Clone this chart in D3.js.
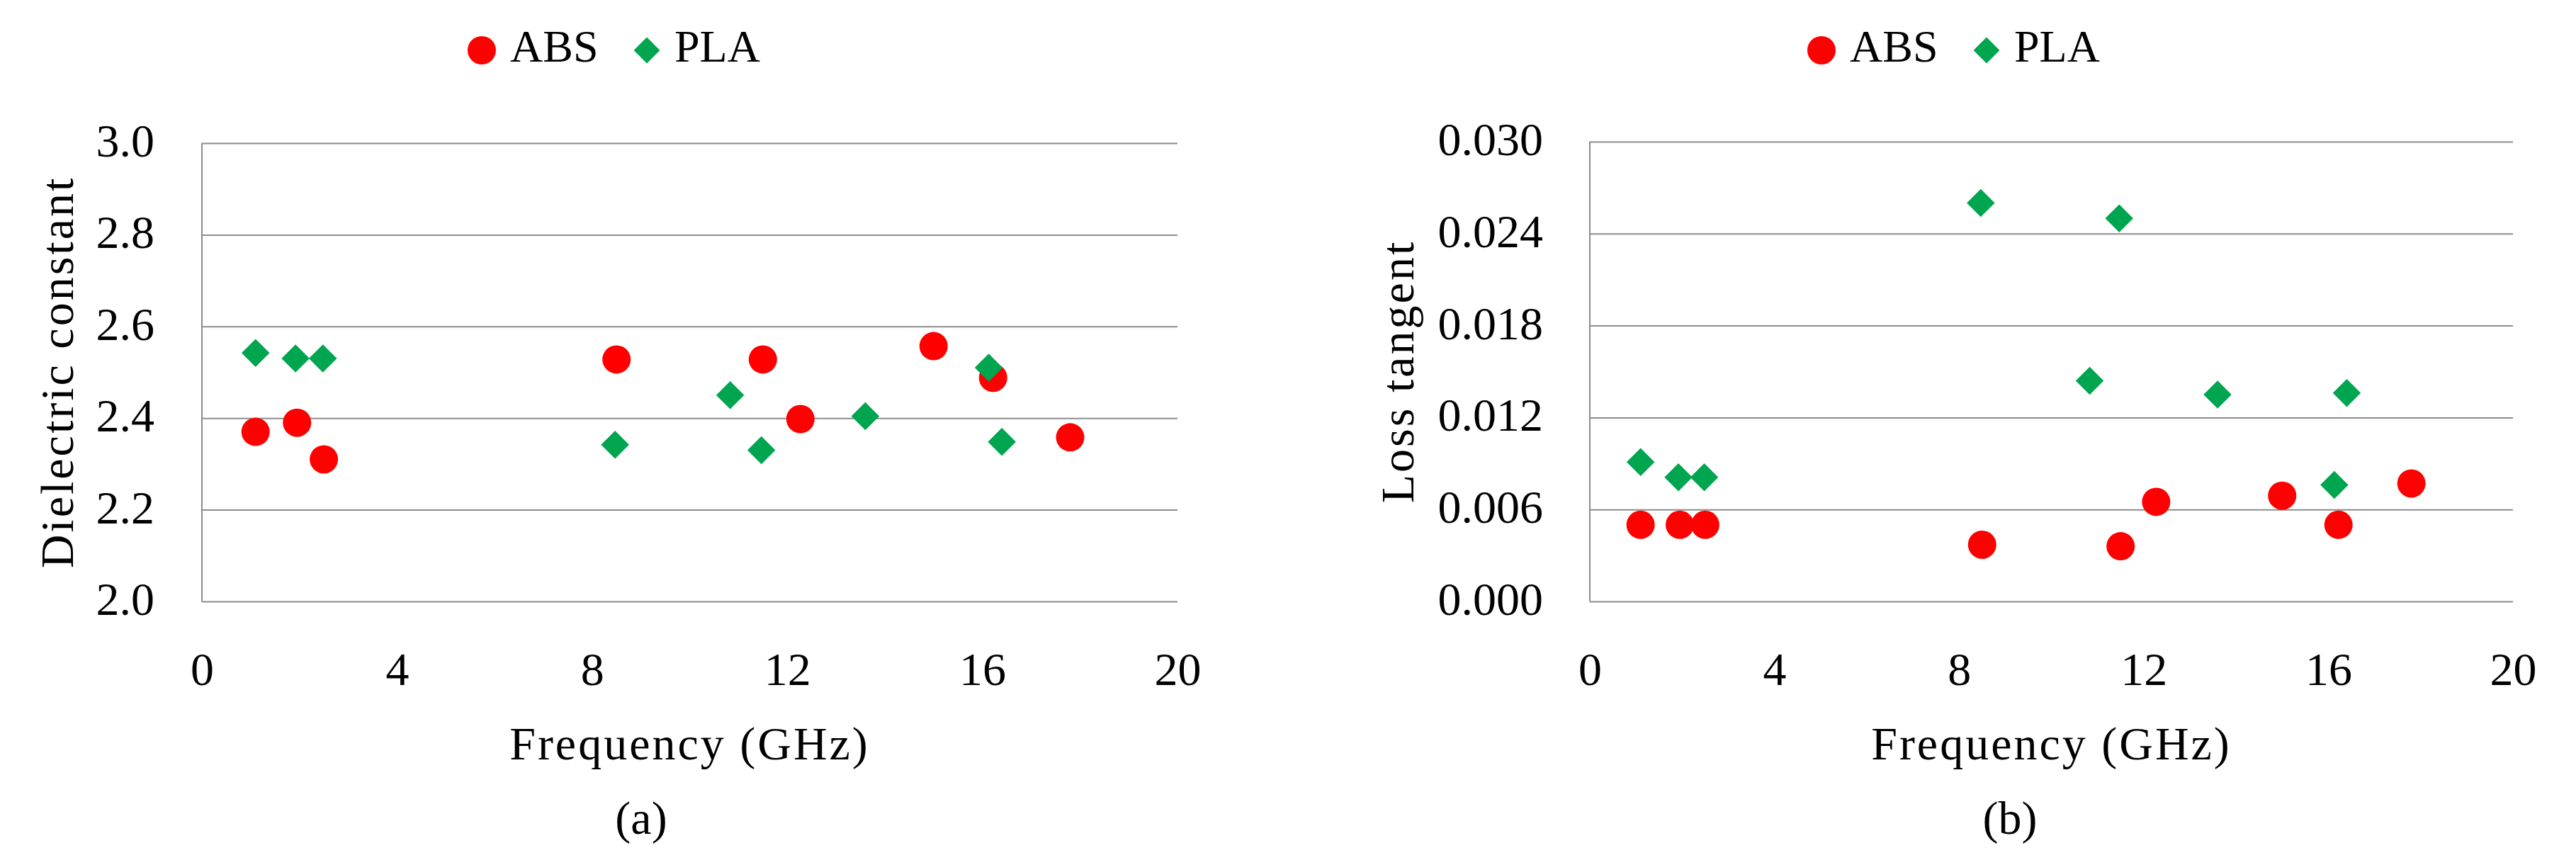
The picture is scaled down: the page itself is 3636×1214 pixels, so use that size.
<!DOCTYPE html>
<html>
<head>
<meta charset="utf-8">
<script src="https://cdn.jsdelivr.net/npm/d3@7"></script>
<style>
  body { margin: 0; background: #fff; }
  text { font-family: "Liberation Serif", "Times New Roman", serif; fill: #000; }
</style>
</head>
<body>
<div id="graph"></div>
<script>
const w = 3636;
const h = 1214;

// data
const absFreq = [1.1, 1.95, 2.5, 8.5, 11.5, 12.27, 15.0, 16.22, 17.8];
const absEps = [2.37, 2.39, 2.31, 2.528, 2.528, 2.398, 2.557, 2.488, 2.358];
const absTan = [0.005, 0.005, 0.005, 0.0037, 0.0036, 0.0065, 0.0069, 0.005, 0.0077];

const plaFreq = [1.1, 1.92, 2.48, 8.47, 10.83, 11.47, 13.6, 16.13, 16.4];
const plaEps = [2.542, 2.53, 2.53, 2.342, 2.45, 2.33, 2.404, 2.51, 2.348];
const plaTan = [0.0091, 0.0081, 0.0081, 0.026, 0.0144, 0.025, 0.0135, 0.0076, 0.0136];

const xTicks = [0, 4, 8, 12, 16, 20];
const epsTicks = [2.0, 2.2, 2.4, 2.6, 2.8, 3.0];
const tanTicks = [0, 0.006, 0.012, 0.018, 0.024, 0.03];

const seriesNames = ["ABS", "PLA"];
const colors = { ABS: "#ff0000", PLA: "#00a550" };

const grid = "#8c8c8c";
const fs = 66;

let svg = d3
  .select("#graph")
  .append("svg")
  .attr("width", w)
  .attr("height", h);

svg.append("rect").attr("width", w).attr("height", h).attr("fill", "#fff");

let diamond = size => d3.symbol(d3.symbolSquare, size);

let drawPanel = opt => {
  let x = d3.scaleLinear().domain([0, 20]).range([opt.left, opt.right]);
  let y = d3.scaleLinear().domain(opt.yDomain).range([opt.bottom, opt.top]);
  let g = svg.append("g");

  // horizontal gridlines + y tick labels
  let yAxis = g
    .append("g")
    .attr("transform", `translate(${opt.left},0)`)
    .call(
      d3.axisLeft(y)
        .tickValues(opt.yTicks)
        .tickFormat(opt.yFormat)
        .tickSize(-(opt.right - opt.left))
        .tickPadding(opt.left - opt.labelRight)
    );
  yAxis.select(".domain").remove();
  yAxis.selectAll(".tick line").attr("stroke", grid).attr("stroke-width", 2);
  yAxis
    .selectAll(".tick text")
    .attr("font-size", fs)
    .attr("font-family", null)
    .attr("dy", "0.28em");

  // left axis line
  g.append("line")
    .attr("x1", opt.left)
    .attr("x2", opt.left)
    .attr("y1", opt.top)
    .attr("y2", opt.bottom)
    .attr("stroke", grid)
    .attr("stroke-width", 2);

  // x tick labels
  let xAxis = g
    .append("g")
    .attr("transform", `translate(0,${opt.bottom})`)
    .call(d3.axisBottom(x).tickValues(xTicks).tickSize(0).tickPadding(71));
  xAxis.select(".domain").remove();
  xAxis.selectAll(".tick text").attr("font-size", fs).attr("font-family", null);

  // points: ABS first, PLA drawn over it
  g.selectAll(".abs")
    .data(absFreq.map((f, i) => [f, opt.absVals[i]]))
    .enter()
    .append("circle")
    .attr("class", "abs")
    .attr("cx", d => x(d[0]))
    .attr("cy", d => y(d[1]))
    .attr("r", 20)
    .attr("fill", colors.ABS);

  g.selectAll(".pla")
    .data(plaFreq.map((f, i) => [f, opt.plaVals[i]]))
    .enter()
    .append("path")
    .attr("class", "pla")
    .attr("d", diamond(780))
    .attr("transform", d => `translate(${x(d[0])},${y(d[1])}) rotate(45)`)
    .attr("fill", colors.PLA);

  // axis titles
  g.append("text")
    .text("Frequency (GHz)")
    .attr("x", (opt.left + opt.right) / 2)
    .attr("y", 1072)
    .attr("text-anchor", "middle")
    .attr("font-size", fs)
    .attr("letter-spacing", 3);

  g.append("text")
    .text(opt.yTitle)
    .attr("transform", `translate(${opt.yTitleX},${(opt.top + opt.bottom) / 2}) rotate(-90)`)
    .attr("text-anchor", "middle")
    .attr("dominant-baseline", "central")
    .attr("font-size", fs)
    .attr("letter-spacing", 3);

  g.append("text")
    .text(opt.caption)
    .attr("x", opt.captionX)
    .attr("y", 1177)
    .attr("text-anchor", "middle")
    .attr("font-size", fs);

  // legend
  let lg = g.append("g").attr("transform", `translate(${opt.legendX},0)`);
  lg.append("circle").attr("cx", 0).attr("cy", 71).attr("r", 20).attr("fill", colors.ABS);
  lg.append("text").text(seriesNames[0]).attr("x", 40).attr("y", 87).attr("font-size", 64);
  lg.append("path")
    .attr("d", diamond(680))
    .attr("transform", "translate(233,71) rotate(45)")
    .attr("fill", colors.PLA);
  lg.append("text").text(seriesNames[1]).attr("x", 272).attr("y", 87).attr("font-size", 64);
};

drawPanel({
  left: 285,
  right: 1662,
  top: 202,
  bottom: 849,
  labelRight: 218,
  yDomain: [2.0, 3.0],
  yTicks: epsTicks,
  yFormat: d3.format(".1f"),
  absVals: absEps,
  plaVals: plaEps,
  yTitle: "Dielectric constant",
  yTitleX: 80,
  caption: "(a)",
  captionX: 905,
  legendX: 680
});

drawPanel({
  left: 2244,
  right: 3547,
  top: 200,
  bottom: 849,
  labelRight: 2178,
  yDomain: [0, 0.03],
  yTicks: tanTicks,
  yFormat: d3.format(".3f"),
  absVals: absTan,
  plaVals: plaTan,
  yTitle: "Loss tangent",
  yTitleX: 1972,
  caption: "(b)",
  captionX: 2837,
  legendX: 2571
});
</script>
</body>
</html>
